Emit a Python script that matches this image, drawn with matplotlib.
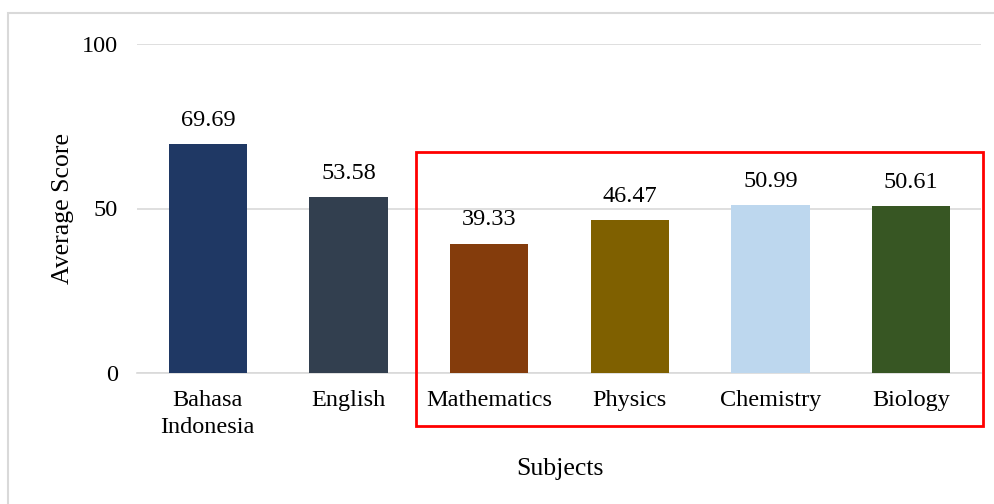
import matplotlib.pyplot as plt
from matplotlib.patches import Rectangle

plt.rcParams['font.family'] = ['Liberation Serif', 'DejaVu Serif']

subjects = ['Bahasa\nIndonesia', 'English', 'Mathematics', 'Physics', 'Chemistry', 'Biology']
scores = [69.69, 53.58, 39.33, 46.47, 50.99, 50.61]
colors = ['#1F3864', '#323F4F', '#843C0C', '#7F6000', '#BDD7EE', '#375623']
yticks = [0, 50, 100]

fig = plt.figure(figsize=(9.95, 5.04), dpi=100)
ax = fig.add_axes([137.5 / 995, 1 - 373 / 504, 844 / 995, 329 / 504])

x = range(len(subjects))
bars = ax.bar(x, scores, width=0.555, color=colors, zorder=3)
for b, v in zip(bars, scores):
    ax.text(b.get_x() + b.get_width() / 2, v + 4, f'{v:.2f}', ha='center', va='bottom', fontsize=17.5)

ax.set_xlim(-0.5, len(subjects) - 0.5)
ax.set_ylim(0, 100)
ax.set_yticks(yticks)
ax.set_xticks(list(x))
ax.set_xticklabels(subjects, fontsize=17.5, linespacing=1.4)
ax.tick_params(axis='y', labelsize=17.5, length=0, pad=14)
ax.tick_params(axis='x', length=0, pad=12)
ax.grid(axis='y', color='#D9D9D9', linewidth=1.2, zorder=0)
for s in ['top', 'right', 'left']:
    ax.spines[s].set_visible(False)
ax.spines['bottom'].set_color('#D9D9D9')
ax.spines['bottom'].set_linewidth(1.2)

ax.set_ylabel('Average Score', fontsize=18.5, labelpad=6)
ax.set_xlabel('Subjects', fontsize=18.5, labelpad=14)

# highlight box around the science subjects
fig.patches.append(Rectangle((416 / 995, 1 - 426 / 504), 567 / 995, 274 / 504,
                             transform=fig.transFigure, fill=False,
                             edgecolor='#FF0000', linewidth=2))
# chart border
fig.patches.append(Rectangle((8 / 995, -0.05), 1.0, 1 - 13 / 504 + 0.05,
                             transform=fig.transFigure, fill=False,
                             edgecolor='#D9D9D9', linewidth=1.5))

fig.savefig('out.png', dpi=100)
